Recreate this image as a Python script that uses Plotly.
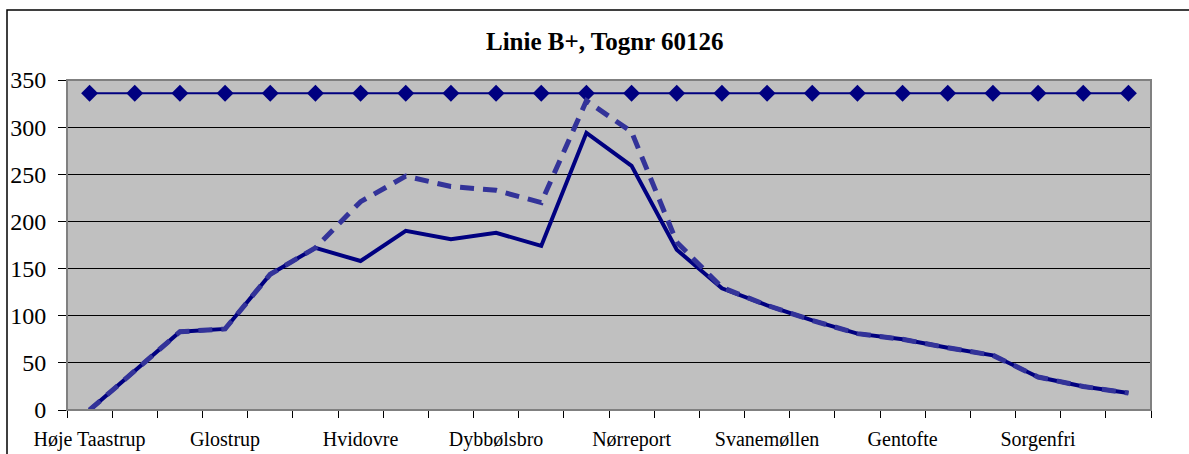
import plotly.graph_objects as go

stations = ["Høje Taastrup", "Taastrup", "Albertslund", "Glostrup", "Brøndbyøster",
            "Rødovre", "Hvidovre", "Valby", "Enghave", "Dybbølsbro", "København H",
            "Vesterport", "Nørreport", "Østerport", "Nordhavn", "Svanemøllen",
            "Hellerup", "Bernstorffsvej", "Gentofte", "Jægersborg", "Lyngby",
            "Sorgenfri", "Virum", "Holte"]
capacity = [336, 336, 336, 336, 336, 336, 336, 336, 336, 336, 336, 336,
            336, 336, 336, 336, 336, 336, 336, 336, 336, 336, 336, 336]
load_solid = [0, 42, 83, 86, 144, 172, 158, 190, 181, 188, 174, 294,
              259, 170, 129, 111, 95, 81, 75, 66, 58, 35, 25, 18]
load_dashed = [0, 42, 83, 86, 144, 172, 221, 248, 237, 233, 220, 328,
               295, 178, 130, 111, 95, 81, 75, 66, 58, 35, 25, 18]
label_every = 3

xpos = list(range(len(stations)))
serif = "Liberation Serif"

fig = go.Figure()
fig.add_trace(go.Scatter(x=xpos, y=capacity, mode="lines+markers",
                         line=dict(color="#000080", width=2),
                         marker=dict(symbol="diamond", size=13, color="#000080"),
                         hoverinfo="y"))
fig.add_trace(go.Scatter(x=xpos, y=load_solid, mode="lines",
                         line=dict(color="#000080", width=4)))
fig.add_trace(go.Scatter(x=xpos, y=load_dashed, mode="lines",
                         line=dict(color="#333399", width=5, dash="14px,9px")))

fig.update_layout(
    width=1189, height=454,
    margin=dict(l=67, r=38, t=80, b=44, autoexpand=False),
    paper_bgcolor="white", plot_bgcolor="#C0C0C0",
    showlegend=False,
    font=dict(family=serif, color="black"),
    xaxis=dict(range=[-0.5, len(stations) - 0.5], tickmode="array",
               tickvals=xpos[::label_every], ticktext=stations[::label_every],
               ticks="", showgrid=False, zeroline=False, automargin=False,
               showline=True, linecolor="black", linewidth=1,
               tickfont=dict(size=20, family=serif), ticklabelstandoff=11,
               minor=dict(tickmode="array",
                          tickvals=[i - 0.5 for i in range(len(stations) + 1)],
                          ticks="outside", ticklen=7, tickcolor="black",
                          tickwidth=1, showgrid=False)),
    yaxis=dict(range=[0, 350], dtick=50, tickmode="linear", tick0=0,
               showgrid=True, gridcolor="black", gridwidth=1, zeroline=False,
               showline=True, linecolor="black", linewidth=1, automargin=False,
               ticks="outside", ticklen=8, tickcolor="black",
               tickfont=dict(size=24, family=serif), ticklabelstandoff=7),
)

# plot-area border (gray) and outer chart border (black)
fig.add_shape(type="rect", xref="paper", yref="paper", x0=0, x1=1, y0=0, y1=1,
              line=dict(color="#808080", width=2), layer="above")
fig.add_shape(type="rect", xref="paper", yref="paper",
              xsizemode="pixel", ysizemode="pixel", xanchor=0, yanchor=1,
              x0=-60, x1=1200, y0=-400, y1=70,
              line=dict(color="black", width=1.5), fillcolor="rgba(0,0,0,0)",
              layer="below")

fig.add_annotation(text="<b>Linie B+, Tognr 60126</b>", xref="paper", yref="paper",
                   x=(604 - 67) / 1084, y=1 + (80 - 42) / 330,
                   xanchor="center", yanchor="middle", showarrow=False,
                   font=dict(size=25, family=serif, color="black"))

fig.write_html("out.html", config={"displayModeBar": False},
               post_script="document.body.style.margin='0';")
